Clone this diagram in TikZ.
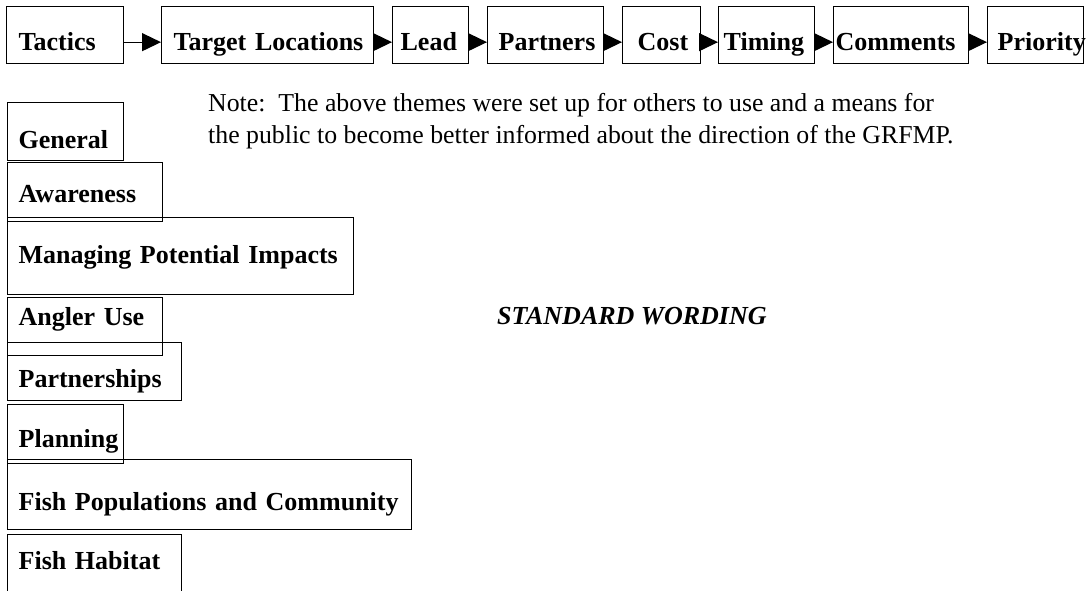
\documentclass[tikz,border=0pt]{standalone}
\usepackage{fontspec}
\setmainfont{Liberation Serif}
\usetikzlibrary{arrows.meta}

\tikzset{
  theme/.style={draw, line width=1.3pt, anchor=north west, inner ysep=0pt,
    align=left, font=\bfseries\fontsize{26}{30}\selectfont,
    execute at begin node={\leavevmode\hbox\bgroup}, execute at end node={\egroup}},
  link/.style={-{Triangle[length=19pt,width=18pt]}, line width=1.3pt},
}

\begin{document}
\begin{tikzpicture}[x=1pt,y=-1pt]
  \useasboundingbox (0,0) rectangle (1091,590);
  % top row of headings
  \node[theme, inner xsep=12pt, text width=93pt, text height=44pt, text depth=13pt] at (6,6) (tactics) {Tactics};
  \node[theme, inner xsep=12pt, text width=188pt, text height=44pt, text depth=13pt] at (161,6) (target) {Target Locations};
  \node[theme, inner xsep=8pt, text width=60pt, text height=44pt, text depth=13pt] at (392,6) (lead) {Lead};
  \node[theme, inner xsep=11pt, text width=94pt, text height=44pt, text depth=13pt] at (487,6) (partners) {Partners};
  \node[theme, inner xsep=15pt, text width=48pt, text height=44pt, text depth=13pt] at (622,6) (cost) {Cost};
  \node[theme, inner xsep=5pt, text width=86pt, text height=44pt, text depth=13pt] at (718,6) (timing) {Timing};
  \node[theme, inner xsep=2pt, text width=131pt, text height=44pt, text depth=13pt] at (833,6) (comments) {Comments};
  \node[theme, inner xsep=10pt, text width=76pt, text height=44pt, text depth=13pt] at (987,6) (priority) {Priority};
  \draw[link] ([yshift=-7pt]tactics.east) -- ([yshift=-7pt]target.west);
  \draw[link] ([yshift=-7pt]target.east) -- ([yshift=-7pt]lead.west);
  \draw[link] ([yshift=-7pt]lead.east) -- ([yshift=-7pt]partners.west);
  \draw[link] ([yshift=-7pt]partners.east) -- ([yshift=-7pt]cost.west);
  \draw[link] ([yshift=-7pt]cost.east) -- ([yshift=-7pt]timing.west);
  \draw[link] ([yshift=-7pt]timing.east) -- ([yshift=-7pt]comments.west);
  \draw[link] ([yshift=-7pt]comments.east) -- ([yshift=-7pt]priority.west);
  % themes down the left side
  \node[theme, inner xsep=11pt, text width=94pt, text height=46pt, text depth=12pt] at (7,102) (general) {General};
  \node[theme, inner xsep=11pt, text width=133pt, text height=40pt, text depth=19pt] at (7,162) (awareness) {Awareness};
  \node[theme, inner xsep=11pt, text width=324pt, text height=46pt, text depth=31pt] at (7,217) (managing) {Managing Potential Impacts};
  \node[theme, inner xsep=11pt, text width=133pt, text height=28pt, text depth=30pt] at (7,297) (angler) {Angler Use};
  \node[theme, inner xsep=11pt, text width=152pt, text height=45pt, text depth=13pt] at (7,342) (partnerships) {Partnerships};
  \node[theme, inner xsep=11pt, text width=94pt, text height=43pt, text depth=16pt] at (7,404) (planning) {Planning};
  \node[theme, inner xsep=11pt, text width=382pt, text height=51pt, text depth=19pt] at (7,459) (fishpop) {Fish Populations and Community};
  \node[theme, inner xsep=11pt, text width=152pt, text height=35pt, text depth=30pt] at (7,534) (habitat) {Fish Habitat};
  % note and wording
  \node[anchor=north west, inner sep=0pt, align=left, font=\fontsize{25.8}{32}\selectfont] at (208,93) (note)
    {Note:\ \ The above themes were set up for others to use and a means for\\the public to become better informed about the direction of the GRFMP.};
  \node[anchor=base west, inner sep=0pt, font=\bfseries\itshape\fontsize{26}{30}\selectfont] at (497,324) (wording) {STANDARD WORDING};
\end{tikzpicture}
\end{document}
